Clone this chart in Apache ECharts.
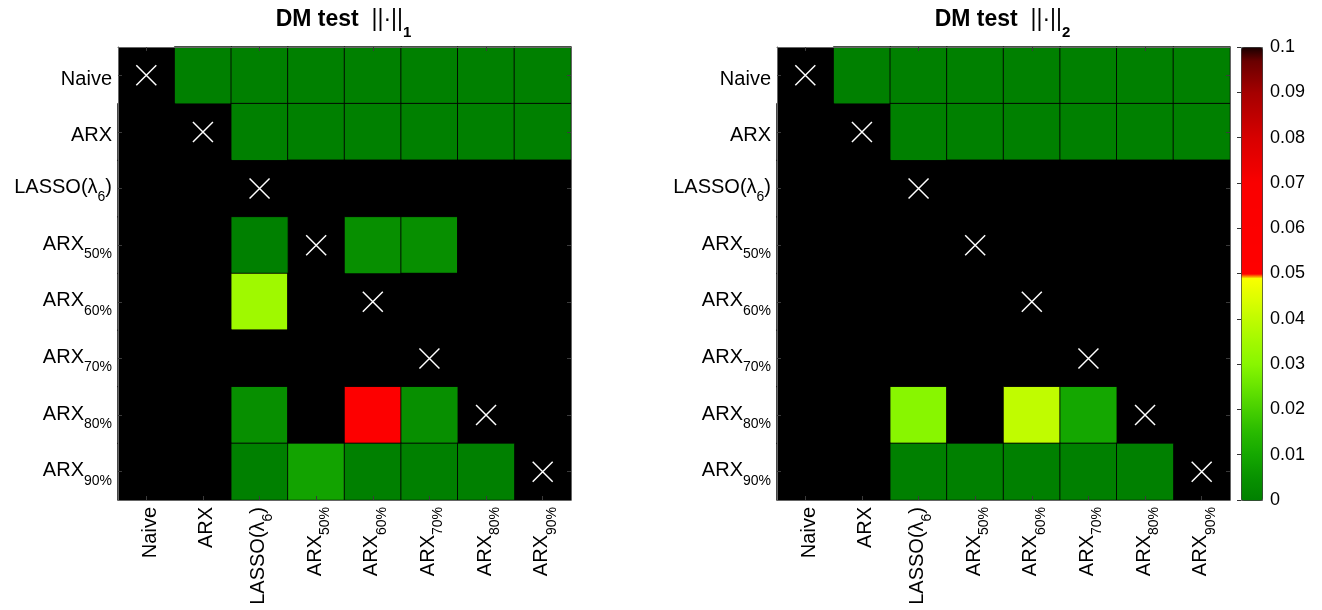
<!DOCTYPE html>
<html><head><meta charset="utf-8">
<script src="https://cdn.jsdelivr.net/npm/echarts@6/dist/echarts.min.js"></script>
<style>html,body{margin:0;padding:0;background:#fff}#c{width:1322px;height:610px}</style>
</head><body><div id="c"></div>
<script>
// ---- data ----
const categories = ['Naive', 'ARX', 'LASSO(λ_{6})', 'ARX_{50%}', 'ARX_{60%}', 'ARX_{70%}', 'ARX_{80%}', 'ARX_{90%}'];
const normSubs = ['1', '2'];
const NS = 1; // p-value above 0.1 (not significant, drawn black)
// rows = model A, columns = model B ; null = diagonal
const pNorm1 = [
  [null, 0, 0, 0, 0, 0, 0, 0],
  [NS, null, 0, 0, 0, 0, 0, 0],
  [NS, NS, null, NS, NS, NS, NS, NS],
  [NS, NS, 0, null, 0.0043, 0.0043, NS, NS],
  [NS, NS, 0.0345, NS, null, NS, NS, NS],
  [NS, NS, NS, NS, NS, null, NS, NS],
  [NS, NS, 0.0043, NS, 0.06, 0.0043, null, NS],
  [NS, NS, 0, 0.009, 0, 0, 0, null]
];
const pNorm2 = [
  [null, 0, 0, 0, 0, 0, 0, 0],
  [NS, null, 0, 0, 0, 0, 0, 0],
  [NS, NS, null, NS, NS, NS, NS, NS],
  [NS, NS, NS, null, NS, NS, NS, NS],
  [NS, NS, NS, NS, null, NS, NS, NS],
  [NS, NS, NS, NS, NS, null, NS, NS],
  [NS, NS, 0.03, NS, 0.04, 0.01, null, NS],
  [NS, NS, 0, 0, 0, 0, 0, null]
];
const cbarMin = 0, cbarMax = 0.1, cbarStep = 0.01;
// colormap anchor colours [value, [r,g,b]]
const cmapKeys = [
  [0, [0, 128, 0]], [0.005, [8, 146, 0]], [0.01, [20, 167, 0]], [0.015, [40, 186, 0]],
  [0.02, [70, 207, 0]], [0.025, [103, 228, 0]], [0.03, [136, 246, 0]], [0.035, [162, 249, 0]],
  [0.04, [192, 252, 0]], [0.045, [224, 254, 0]], [0.0499, [255, 255, 0]],
  [0.05, [255, 0, 0]], [0.07, [250, 0, 0]], [0.08, [215, 0, 0]], [0.09, [165, 0, 0]],
  [0.097, [105, 0, 0]], [0.1, [25, 0, 0]]
];

// ---- helpers ----
const F = "'Liberation Sans', Arial, Helvetica, sans-serif";
function cmapAt(v) {
  for (let i = 0; i < cmapKeys.length - 1; i++) {
    const [v0, c0] = cmapKeys[i], [v1, c1] = cmapKeys[i + 1];
    if (v >= v0 && v <= v1) {
      const t = v1 === v0 ? 0 : (v - v0) / (v1 - v0);
      const c = c0.map((x, k) => Math.round(x + (c1[k] - x) * t));
      return 'rgb(' + c.join(',') + ')';
    }
  }
  return 'rgb(' + cmapKeys[cmapKeys.length - 1][1].join(',') + ')';
}
const NSTOP = 401;
const stops = [];
for (let i = 0; i < NSTOP; i++) stops.push(cmapAt(cbarMin + (cbarMax - cbarMin) * i / (NSTOP - 1)));

function fmtLabel(s) {
  if (s.indexOf('_{') < 0) return '{p|' + s + '}';
  const parts = [];
  const re = /_\{([^}]*)\}/g;
  let last = 0, m;
  while ((m = re.exec(s))) {
    if (m.index > last) parts.push('{a|' + s.slice(last, m.index) + '}');
    parts.push('{s|' + m[1] + '}');
    last = re.lastIndex;
  }
  if (last < s.length) parts.push('{a|' + s.slice(last) + '}');
  return parts.join('');
}
const labelRich = {
  p: { fontSize: 20, fontFamily: F, color: '#000', verticalAlign: 'top', lineHeight: 22, padding: [5, 0, 0, 0] },
  a: { fontSize: 20, fontFamily: F, color: '#000', verticalAlign: 'top', lineHeight: 22 },
  s: { fontSize: 14, fontFamily: F, color: '#000', verticalAlign: 'top', lineHeight: 15, padding: [13, 0, 0, 0] }
};
function toCells(mat) {
  const out = [];
  mat.forEach((row, r) => row.forEach((v, c) => { if (v !== null) out.push([c, r, v]); }));
  return out;
}
const diag = categories.map((_, i) => [i, i]);

const grids = [
  { left: 118, top: 47, width: 453, height: 453, show: true, backgroundColor: '#000', borderWidth: 0 },
  { left: 777, top: 47, width: 453, height: 453, show: true, backgroundColor: '#000', borderWidth: 0 },
  { left: 1241, top: 47, width: 21, height: 453 }
];
const tickStyle = { show: true, inside: true, alignWithLabel: true, length: 4, lineStyle: { color: '#3a3a3a' } };
const lineStyle = { show: true, lineStyle: { color: '#666', width: 1 } };
const xAxes = [], yAxes = [];
[0, 1].forEach(g => {
  xAxes.push({ type: 'category', gridIndex: g, data: categories, position: 'bottom', z: 10,
    axisTick: tickStyle, axisLine: lineStyle, splitLine: { show: false },
    axisLabel: { rotate: 90, margin: 7, formatter: fmtLabel, rich: labelRich, interval: 0 } });
  xAxes.push({ type: 'category', gridIndex: g, data: categories, position: 'top', z: 10,
    axisTick: tickStyle, axisLine: lineStyle, splitLine: { show: false }, axisLabel: { show: false } });
  yAxes.push({ type: 'category', gridIndex: g, data: categories, inverse: true, position: 'left', z: 10,
    axisTick: tickStyle, axisLine: lineStyle, splitLine: { show: false },
    axisLabel: { margin: 6, formatter: fmtLabel, rich: labelRich, interval: 0 } });
  yAxes.push({ type: 'category', gridIndex: g, data: categories, inverse: true, position: 'right', z: 10,
    axisTick: tickStyle, axisLine: lineStyle, splitLine: { show: false }, axisLabel: { show: false } });
});
xAxes.push({ type: 'value', gridIndex: 2, show: false, min: 0, max: 1 });
yAxes.push({ type: 'value', gridIndex: 2, min: cbarMin, max: cbarMax, interval: cbarStep, position: 'right', z: 10,
  axisLine: { show: false }, splitLine: { show: false },
  axisTick: { show: true, inside: true, length: 4, lineStyle: { color: '#333' } },
  axisLabel: { margin: 8, fontSize: 18, fontFamily: F, color: '#000', formatter: v => String(+v.toFixed(2)) } });

const titleRich = {
  b: { fontSize: 23, fontWeight: 'bold', fontFamily: F, color: '#000', verticalAlign: 'top', lineHeight: 24 },
  n: { fontSize: 23, fontFamily: F, color: '#000', verticalAlign: 'top', lineHeight: 24 },
  s: { fontSize: 15, fontWeight: 'bold', fontFamily: F, color: '#000', verticalAlign: 'top', lineHeight: 16, padding: [17, 0, 0, 0] }
};
const titleX = [118 + 453 / 2 - 1, 777 + 453 / 2 - 1];

const xSymbol = 'path://M0,0L10,10M10,0L0,10';
const series = [];
[pNorm1, pNorm2].forEach((mat, g) => {
  series.push({ type: 'heatmap', xAxisIndex: 2 * g, yAxisIndex: 2 * g, data: toCells(mat),
    itemStyle: { borderColor: 'rgba(0,0,0,0.85)', borderWidth: 1 }, emphasis: { disabled: true }, silent: true });
});
[0, 1].forEach(g => {
  series.push({ type: 'scatter', xAxisIndex: 2 * g, yAxisIndex: 2 * g, data: diag, z: 5, silent: true,
    symbol: xSymbol, symbolSize: 20,
    itemStyle: { color: 'rgba(0,0,0,0)', borderColor: '#fff', borderWidth: 1.5, opacity: 1 } });
});

const chart = echarts.init(document.getElementById('c'), null, { renderer: 'canvas' });
chart.setOption({
  animation: false,
  backgroundColor: '#fff',
  grid: grids,
  xAxis: xAxes,
  yAxis: yAxes,
  visualMap: {
    type: 'continuous', min: cbarMin, max: cbarMax, range: [cbarMin, cbarMax - 1e-9],
    seriesIndex: [0, 1], dimension: 2,
    orient: 'vertical', left: 1241, top: 47, itemWidth: 21, itemHeight: 453, padding: 0,
    calculable: false, hoverLink: false, text: null,
    borderColor: '#555', borderWidth: 1,
    inRange: { color: stops }, outOfRange: { color: ['#000'] }
  },
  graphic: normSubs.map((sub, g) => ({
    type: 'text', x: titleX[g], y: 8, silent: true,
    style: { text: '{b|DM test}{n|  ||·||}{s|' + sub + '}', rich: titleRich, align: 'center', verticalAlign: 'top' }
  })),
  series: series
});
</script>
</body></html>
